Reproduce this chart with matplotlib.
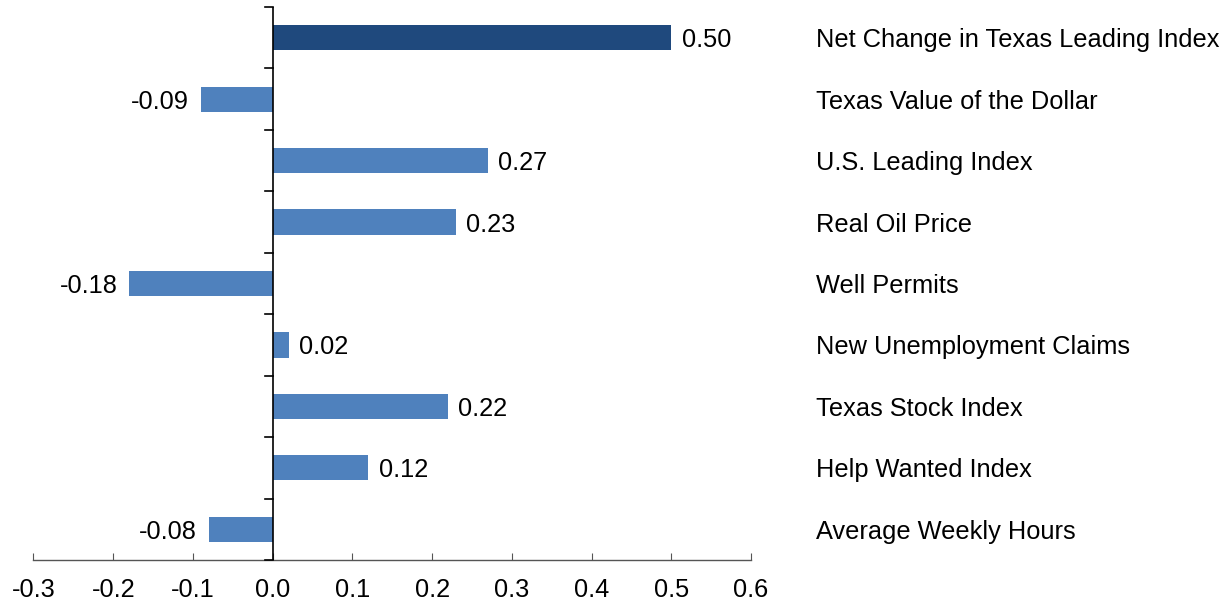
import matplotlib
matplotlib.use("Agg")
import matplotlib.pyplot as plt
import matplotlib.transforms as mtransforms
import numpy as np

categories = ["Net Change in Texas Leading Index", "Texas Value of the Dollar",
              "U.S. Leading Index", "Real Oil Price", "Well Permits",
              "New Unemployment Claims", "Texas Stock Index",
              "Help Wanted Index", "Average Weekly Hours"]
values = [0.50, -0.09, 0.27, 0.23, -0.18, 0.02, 0.22, 0.12, -0.08]
value_labels = ["0.50", "-0.09", "0.27", "0.23", "-0.18", "0.02", "0.22", "0.12", "-0.08"]
xticks = [-0.3, -0.2, -0.1, 0.0, 0.1, 0.2, 0.3, 0.4, 0.5, 0.6]
xtick_labels = ["-0.3", "-0.2", "-0.1", "0.0", "0.1", "0.2", "0.3", "0.4", "0.5", "0.6"]

plt.rcParams['font.family'] = ['Liberation Sans', 'DejaVu Sans']
FS = 18.3

W, H = 1225, 601
fig = plt.figure(figsize=(W / 100, H / 100), dpi=100)
ax = fig.add_axes([33.5 / W, 1 - 560 / H, (751 - 33.5) / W, (560 - 7) / H])

n = len(categories)
ypos = np.arange(n)
colors = ["#1F497D"] + ["#4F81BD"] * (n - 1)
ax.barh(ypos, values, height=0.41, color=colors, zorder=2)
ax.set_ylim(n - 0.5, -0.5)
ax.set_xlim(-0.3, 0.6)

for y, v, lab in zip(ypos, values, value_labels):
    if v >= 0:
        ax.annotate(lab, (v, y), xytext=(7.5, 0), textcoords="offset points",
                    ha="left", va="center_baseline", fontsize=FS)
    else:
        ax.annotate(lab, (v, y), xytext=(-8.5, 0), textcoords="offset points",
                    ha="right", va="center_baseline", fontsize=FS)

trans = mtransforms.blended_transform_factory(fig.transFigure, ax.transData)
for y, c in zip(ypos, categories):
    ax.text(816 / W, y, c, transform=trans,
            ha="left", va="center_baseline", fontsize=FS)

for s in ["top", "right", "left"]:
    ax.spines[s].set_visible(False)
ax.spines["bottom"].set_color("#555555")
ax.spines["bottom"].set_linewidth(1.0)

ax.set_xticks(xticks)
ax.set_xticklabels(xtick_labels, fontsize=FS)
ax.tick_params(axis="x", direction="in", length=5, color="#555555", pad=13)
ax.set_yticks([])

# vertical zero axis with boundary ticks
ax.axvline(0, color="black", linewidth=1.2, zorder=3)
for b in np.arange(-0.5, n, 1.0):
    ax.plot([-0.01, 0], [b, b], color="black", linewidth=1.2, clip_on=False, zorder=3)

fig.savefig("out.png", dpi=100)
